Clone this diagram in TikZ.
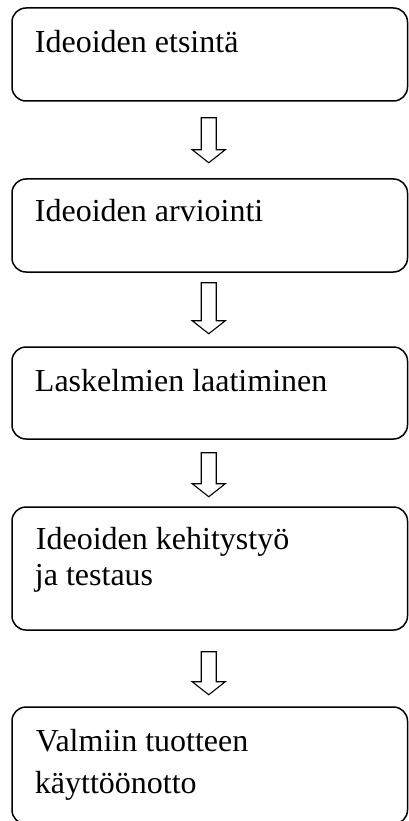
\documentclass[tikz,border=0pt]{standalone}
\usepackage{fontspec}
\setmainfont{Liberation Serif}
\usetikzlibrary{calc}
\begin{document}
\begin{tikzpicture}[x=1pt,y=1pt,
  box/.style={draw, line width=1.5pt, rounded corners=14pt, minimum width=395.5pt, inner sep=0pt},
  steptext/.style={anchor=base west, inner sep=0pt, font=\fontsize{32}{36}\selectfont},
  arrowline/.style={draw, line width=1.1pt, line join=miter, fill=white}
]
\useasboundingbox (0,0) rectangle (409,-821);

% process steps
\node[box, minimum height=93pt]  (b1) at (209.75,-54.5) {};
\node[box, minimum height=93pt]  (b2) at (209.75,-225.5) {};
\node[box, minimum height=92pt]  (b3) at (209.75,-393) {};
\node[box, minimum height=123pt] (b4) at (209.75,-568.5) {};
\node[box, minimum height=117pt] (b5) at (209.75,-765.5) {};

% labels
\node[steptext] (t1)  at ($(b1.north west)+(23.5,-45)$) {Ideoiden etsintä};
\node[steptext] (t2)  at ($(b2.north west)+(23.5,-43)$) {Ideoiden arviointi};
\node[steptext] (t3)  at ($(b3.north west)+(23.5,-45)$) {Laskelmien laatiminen};
\node[steptext] (t4a) at ($(b4.north west)+(24.5,-43)$) {Ideoiden kehitystyö};
\node[steptext] (t4b) at ($(b4.north west)+(23.5,-79.5)$) {ja testaus};
\node[steptext] (t5a) at ($(b5.north west)+(24.5,-45)$) {Valmiin tuotteen};
\node[steptext] (t5b) at ($(b5.north west)+(23.5,-87.5)$) {käyttöönotto};

% tops of the hollow arrows between steps
\coordinate (a1) at ($(b1.south)+(-1,-16)$);
\coordinate (a2) at ($(b2.south)+(-1,-10)$);
\coordinate (a3) at ($(b3.south)+(-1,-13)$);
\coordinate (a4) at ($(b4.south)+(-1,-21)$);

% hollow arrows: shaft 15 wide, head 33 wide and 13 high
\foreach \a/\len in {a1/32, a2/38, a3/31, a4/30}
  \path[arrowline] ($(\a)+(-7.5,0)$) -- ++(0,-\len) -- ++(-9,0) -- ++(16.5,-13)
        -- ++(16.5,13) -- ++(-9,0) -- ++(0,\len) -- cycle;
\end{tikzpicture}
\end{document}
